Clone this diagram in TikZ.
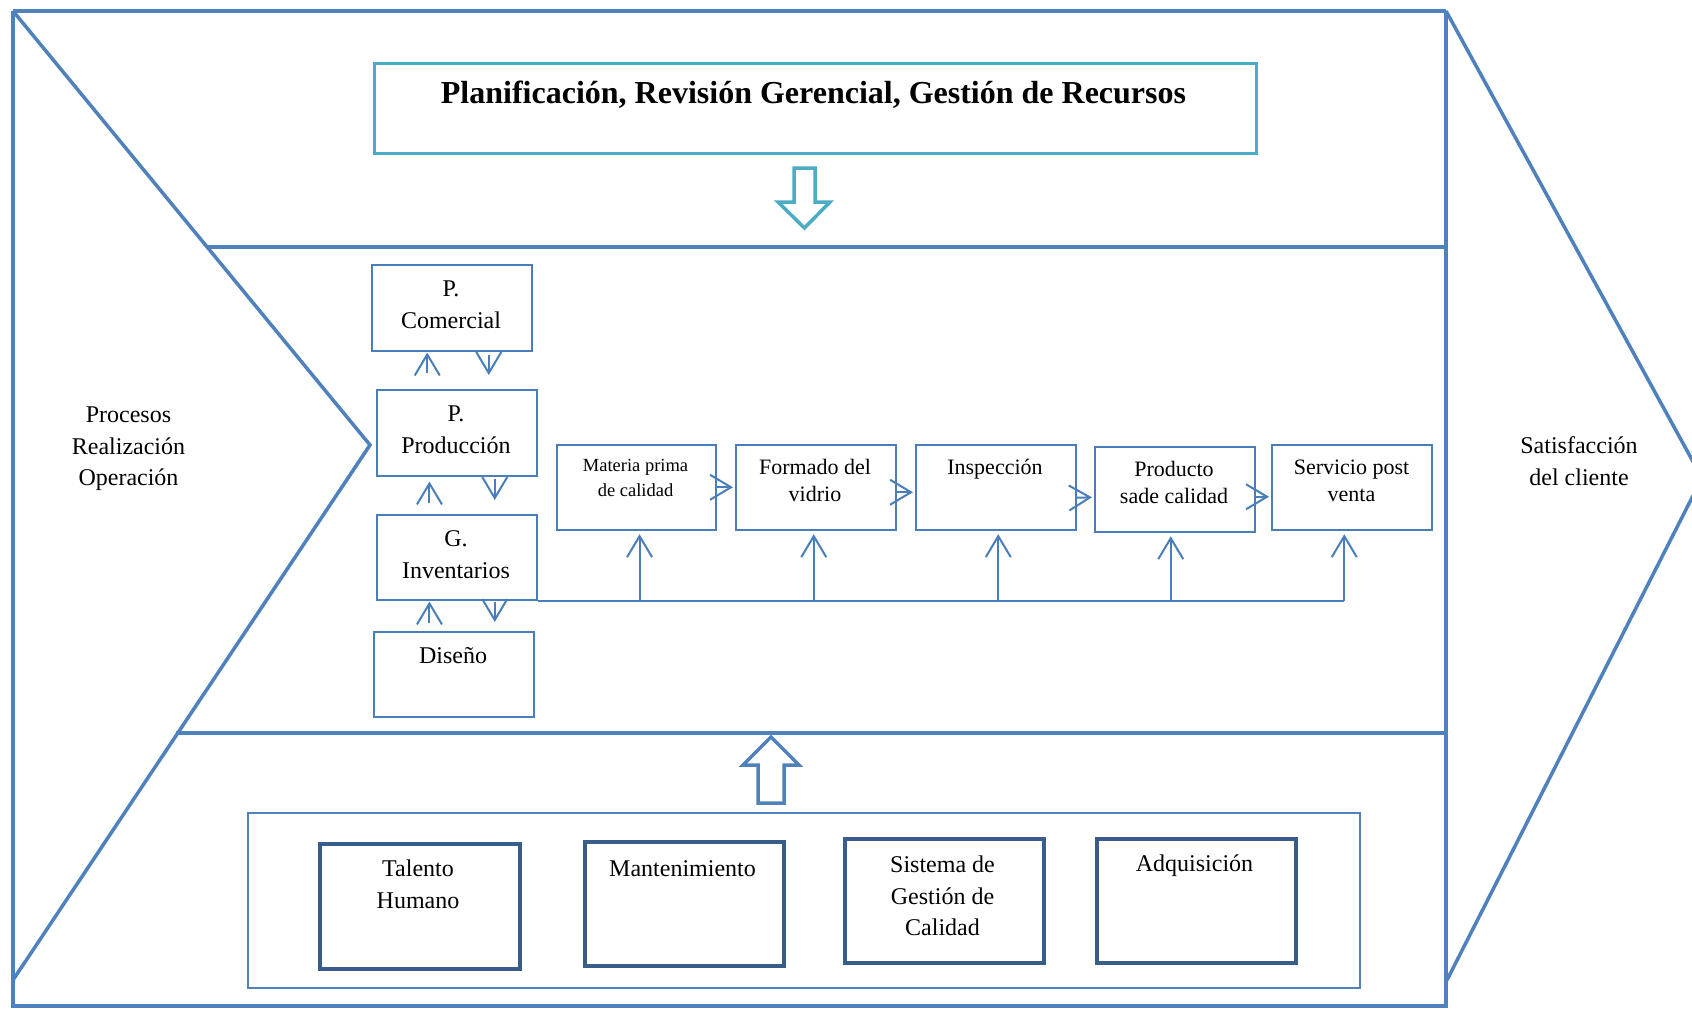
\documentclass[tikz,border=0pt]{standalone}
\usepackage{fontspec}
\setmainfont{Liberation Serif}
\usetikzlibrary{arrows.meta,calc}
\definecolor{frameblue}{RGB}{79,129,189}
\definecolor{boxblue}{RGB}{74,126,187}
\definecolor{darkblue}{RGB}{56,93,138}
\definecolor{aquablue}{RGB}{75,172,198}
\newcommand\fs[2]{\fontsize{#1}{#2}\selectfont}
\begin{document}
\begin{tikzpicture}[x=1pt,y=-1pt,
  frame/.style={draw=frameblue, line width=3.5pt},
  box/.style={draw=boxblue, line width=1.5pt, inner sep=0pt, anchor=north west},
  resbox/.style={draw=darkblue, line width=4pt, inner sep=0pt, anchor=north west},
  txt/.style={inner sep=0pt, align=center, anchor=north, text=black},
  conn/.style={draw=boxblue, line width=2pt},
  arr/.style={conn, -{Straight Barb[length=21pt,width=25pt]}},
  blockarrow/.style={line width=3.5pt, line join=miter}]
\useasboundingbox (0,0) rectangle (1692,1009);
\clip (0,0) rectangle (1692,1009);
\fill[white] (0,0) rectangle (1692,1009);

% outer frame and the two chevrons
\draw[frame] (13,11) -- (1446,11);
\draw[frame] (13,11) -- (13,1006) -- (1446,1006) -- (1446,11);
\draw[frame] (13,11) -- (370,445) -- (13,980);
\draw[frame] (1446,11) -- (1702,478) -- (1447,980);
\draw[frame] (207,247) -- (1446,247);
\draw[frame] (176,733) -- (1446,733);

% side labels
\node[txt, font=\fs{24}{31.3}] (lblin) at (128.5,400.8) {\strut Procesos\\Realización\\Operación};
\node[txt, font=\fs{24}{31.7}] (lblout) at (1579,431.1) {\strut Satisfacción\\del cliente};

% management box and its arrow
\node[draw=aquablue, line width=3pt, inner sep=0pt, anchor=north west,
      minimum width=882pt, minimum height=90pt] (mgmt) at (373,62) {};
\node[inner sep=0pt, anchor=base, font=\fs{32}{38}\bfseries] (mgmttxt) at (813.5,103.5)
  {Planificación, Revisión Gerencial, Gestión de Recursos};
\draw[blockarrow, draw=aquablue] (794,168) -- (815,168) -- (815,202) -- (830,202)
  -- (804.5,228) -- (778,202) -- (794,202) -- cycle;

% support processes
\node[box, minimum width=160pt, minimum height=86pt] (pc) at (371,264) {};
\node[txt, font=\fs{24}{32}] (pctxt) at (451,274.3) {\strut P.\\Comercial};
\node[box, minimum width=160pt, minimum height=86pt] (pp) at (376,389) {};
\node[txt, font=\fs{24}{32}] (pptxt) at (456,399.3) {\strut P.\\Producción};
\node[box, minimum width=160pt, minimum height=85pt] (gi) at (376,514) {};
\node[txt, font=\fs{24}{32}] (gitxt) at (456,524.1) {\strut G.\\Inventarios};
\node[box, minimum width=160pt, minimum height=85pt] (ds) at (373,631) {};
\node[inner sep=0pt, anchor=base, font=\fs{24}{32}] (dstxt) at (453,663.3) {Diseño};

% value chain
\node[box, minimum width=159pt, minimum height=85pt] (mp) at (556,444) {};
\node[txt, font=\fs{18.5}{24.5}] (mptxt) at (635.5,454.5) {\strut Materia prima\\de calidad};
\node[box, minimum width=160pt, minimum height=85pt] (fv) at (735,444) {};
\node[txt, font=\fs{22}{26.7}] (fvtxt) at (815,455.6) {\strut Formado del\\vidrio};
\node[box, minimum width=160pt, minimum height=85pt] (insp) at (915,444) {};
\node[inner sep=0pt, anchor=base, font=\fs{22}{26.7}] (insptxt) at (995,474.3) {Inspección};
\node[box, minimum width=160pt, minimum height=85pt] (pr) at (1094,446) {};
\node[txt, font=\fs{22}{26.7}] (prtxt) at (1174,458) {\strut Producto\\sade calidad};
\node[box, minimum width=160pt, minimum height=85pt] (sv) at (1271,444) {};
\node[txt, font=\fs{22}{27.4}] (svtxt) at (1351.5,455.1) {\strut Servicio post\\venta};

% arrows between support processes
\draw[arr, shorten <=16pt, shorten >=1pt] ([xshift=-29.5pt]pp.north) -- ([xshift=-24.5pt]pc.south);
\draw[arr, shorten <=3pt, shorten >=14pt] ([xshift=37pt]pc.south) -- ([xshift=32pt]pp.north);
\draw[arr, shorten <=11pt, shorten >=5pt] ([xshift=-27.3pt]gi.north) -- ([xshift=-27.3pt]pp.south);
\draw[arr, shorten <=2.7pt, shorten >=14pt] ([xshift=38pt]pp.south) -- ([xshift=38pt]gi.north);
\draw[arr, shorten <=8.3pt, shorten >=1pt] ([xshift=-24.3pt]ds.north) -- ([xshift=-27.3pt]gi.south);
\draw[arr, shorten <=1pt, shorten >=9pt] ([xshift=38pt]gi.south) -- ([xshift=41pt]ds.north);

% arrows along the value chain
\draw[arr, shorten >=2pt] (mp.east) -- (fv.west);
\draw[arr, shorten >=2pt] ([yshift=-5pt]fv.east) -- ([yshift=-5pt]insp.west);
\draw[arr, shorten >=2pt] ([yshift=-10.5pt]insp.east) -- ([yshift=-8pt]pr.west);
\draw[arr, shorten >=2pt] ([yshift=-7.5pt]pr.east) -- ([yshift=-9.5pt]sv.west);

% inventory feed line
\draw[conn] (gi.south east) -- ($(sv.south)+(-7.5,70)$);
\foreach \b/\dx/\dy in {mp/3.3/70, fv/-2/70, insp/2.5/70, pr/-4/68, sv/-7.5/70}
  \draw[arr, shorten >=3.7pt] ($(\b.south)+(\dx,\dy)$) -- ($(\b.south)+(\dx,0)$);

% resources
\draw[blockarrow, draw=frameblue] (771,737) -- (799,765) -- (784,765) -- (784,803)
  -- (758,803) -- (758,765) -- (743,765) -- cycle;
\node[draw=frameblue, line width=1.8pt, inner sep=0pt, anchor=north west,
      minimum width=1112pt, minimum height=175pt] (res) at (247,812) {};
\node[resbox, minimum width=200pt, minimum height=125pt] (th) at (318,842) {};
\node[txt, font=\fs{24}{31.7}] (thtxt) at (418,854.5) {\strut Talento\\Humano};
\node[resbox, minimum width=199pt, minimum height=124pt] (mt) at (583,840) {};
\node[inner sep=0pt, anchor=base, font=\fs{24}{32}] (mttxt) at (682.5,876) {Mantenimiento};
\node[resbox, minimum width=199pt, minimum height=124pt] (sg) at (843,837) {};
\node[txt, font=\fs{24}{31.5}] (sgtxt) at (942.5,850.3) {\strut Sistema de\\Gestión de\\Calidad};
\node[resbox, minimum width=199pt, minimum height=124pt] (aq) at (1095,837) {};
\node[inner sep=0pt, anchor=base, font=\fs{24}{32}] (aqtxt) at (1194.5,871) {Adquisición};
\end{tikzpicture}
\end{document}
